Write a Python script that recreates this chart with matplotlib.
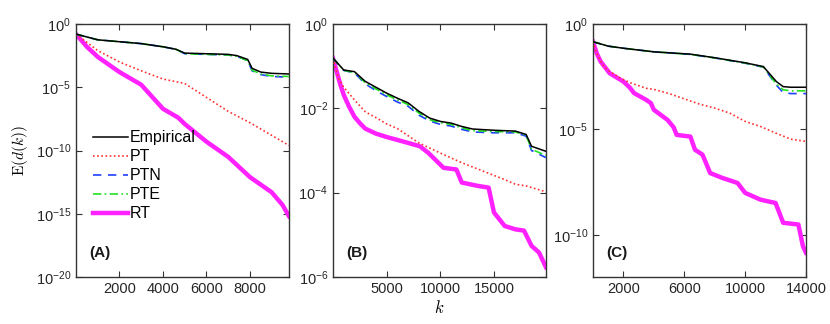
import matplotlib
matplotlib.use("Agg")
import matplotlib.pyplot as plt
import numpy as np

plt.rcParams['font.family'] = ['Liberation Sans', 'DejaVu Sans']
plt.rcParams['mathtext.fontset'] = 'custom'
plt.rcParams['mathtext.rm'] = 'Liberation Sans'

# ---- panel A (log10 of E(d(k))) ----
kA_emp = [0, 1000, 2000, 3000, 4000, 4600, 5000, 6000, 7000, 7400, 7900, 8100, 8500, 9000, 9800]
A_emp = [-0.8, -1.25, -1.4, -1.55, -1.8, -2.0, -2.3, -2.35, -2.4, -2.5, -2.8, -3.5, -3.8, -3.9, -3.95]
A_ptn = [-0.8, -1.25, -1.4, -1.55, -1.8, -2.0, -2.35, -2.4, -2.45, -2.55, -2.9, -3.7, -4.0, -4.15, -4.2]
A_pte = [-0.8, -1.25, -1.4, -1.55, -1.8, -2.0, -2.35, -2.4, -2.45, -2.55, -2.9, -3.65, -3.95, -4.1, -4.15]
kA_pt = [0, 1000, 2000, 3000, 4000, 5000, 6000, 7000, 8000, 9000, 9800]
A_pt = [-0.8, -2.1, -3.0, -3.7, -4.35, -4.7, -5.8, -6.9, -7.8, -8.8, -9.6]
kA_rt = [0, 500, 1000, 2000, 3000, 4000, 4700, 5000, 6000, 7000, 8000, 9000, 9500, 9800]
A_rt = [-0.8, -1.8, -2.6, -3.8, -4.8, -6.7, -7.4, -7.9, -9.3, -10.5, -12.1, -13.3, -14.3, -15.2]

# ---- panel B ----
kB_emp = [0, 1000, 2000, 3000, 4000, 5000, 6000, 7000, 8000, 9000, 10000, 11000, 12000,
          13000, 15000, 17000, 18000, 18500, 19850]
B_emp = [-0.81, -1.09, -1.13, -1.36, -1.5, -1.64, -1.76, -1.87, -2.07, -2.23, -2.31, -2.35, -2.43,
         -2.49, -2.52, -2.54, -2.62, -2.9, -3.02]
B_ptn = [-0.81, -1.1, -1.16, -1.42, -1.58, -1.72, -1.85, -1.95, -2.16, -2.3, -2.38, -2.42, -2.5,
         -2.56, -2.58, -2.58, -2.66, -3.0, -3.17]
B_pte = [-0.81, -1.1, -1.15, -1.39, -1.54, -1.68, -1.8, -1.91, -2.11, -2.27, -2.34, -2.38, -2.46,
         -2.53, -2.55, -2.56, -2.64, -2.97, -3.12]
kB_pt = [0, 500, 1000, 2000, 3000, 4000, 5000, 6000, 8000, 10000, 12000, 14000, 16000, 17000, 18000, 19850]
B_pt = [-0.81, -1.28, -1.5, -1.8, -2.08, -2.22, -2.37, -2.48, -2.82, -3.06, -3.29, -3.49, -3.69, -3.8,
        -3.84, -3.98]
kB_rt = [0, 300, 700, 1000, 1500, 2000, 2500, 3000, 4000, 5000, 7000, 8100, 8900, 10300, 11500, 12000,
         13500, 14500, 15000, 16000, 17000, 17800, 18500, 19200, 19850]
B_rt = [-0.81, -1.09, -1.45, -1.68, -1.96, -2.2, -2.35, -2.48, -2.6, -2.68, -2.82, -2.9, -3.06, -3.41,
        -3.45, -3.76, -3.84, -3.88, -4.47, -4.79, -4.87, -4.9, -5.26, -5.42, -5.77]

# ---- panel C ----
kC_emp = [0, 1000, 2000, 4000, 6400, 8000, 10000, 11200, 12050, 12500, 13000, 14000]
C_emp = [-0.84, -1.05, -1.15, -1.32, -1.43, -1.6, -1.84, -2.02, -2.73, -2.97, -3.0, -3.0]
C_ptn = [-0.84, -1.05, -1.15, -1.32, -1.44, -1.61, -1.86, -2.05, -2.9, -3.25, -3.3, -3.3]
C_pte = [-0.84, -1.05, -1.15, -1.32, -1.44, -1.61, -1.85, -2.04, -2.85, -3.12, -3.17, -3.17]
kC_pt = [0, 300, 700, 1000, 1800, 2500, 3500, 4000, 5000, 6000, 7000, 8000, 9000, 10000, 11000, 12000,
         13000, 14000]
C_pt = [-0.84, -1.5, -2.0, -2.2, -2.57, -2.8, -3.05, -3.1, -3.3, -3.55, -3.8, -3.99, -4.23, -4.62,
        -4.86, -5.17, -5.46, -5.57]
kC_rt = [0, 250, 500, 1100, 2000, 2400, 2700, 3500, 3800, 4000, 4900, 5300, 5500, 6400, 6700, 7200,
         7700, 8500, 9500, 10000, 11000, 12000, 12500, 13500, 13800, 14000]
C_rt = [-0.84, -1.4, -1.78, -2.34, -2.73, -3.0, -3.28, -3.6, -3.75, -4.07, -4.55, -4.9, -5.26, -5.34,
        -5.96, -6.2, -7.07, -7.3, -7.54, -8.01, -8.33, -8.49, -9.43, -9.51, -10.54, -10.85]

panels = [
    dict(k_emp=kA_emp, emp=A_emp, ptn=A_ptn, pte=A_pte, k_pt=kA_pt, pt=A_pt, k_rt=kA_rt, rt=A_rt,
         xlim=(0, 9800), xticks=[2000, 4000, 6000, 8000], ylim=(1e-20, 1),
         yticks=[1e-20, 1e-15, 1e-10, 1e-5, 1], label='(A)', left=76),
    dict(k_emp=kB_emp, emp=B_emp, ptn=B_ptn, pte=B_pte, k_pt=kB_pt, pt=B_pt, k_rt=kB_rt, rt=B_rt,
         xlim=(0, 19850), xticks=[5000, 10000, 15000], ylim=(1e-6, 1),
         yticks=[1e-6, 1e-4, 1e-2, 1], label='(B)', left=333),
    dict(k_emp=kC_emp, emp=C_emp, ptn=C_ptn, pte=C_pte, k_pt=kC_pt, pt=C_pt, k_rt=kC_rt, rt=C_rt,
         xlim=(0, 14000), xticks=[2000, 6000, 10000, 14000], ylim=(1e-12, 1),
         yticks=[1e-10, 1e-5, 1], label='(C)', left=593),
]

W, H = 830, 324
fig = plt.figure(figsize=(W / 100, H / 100), dpi=100)

axes = []
for p in panels:
    ax = fig.add_axes([p['left'] / W, 47 / H, 213 / W, 253 / H])
    axes.append(ax)
    pw = lambda v: 10 ** np.array(v)
    ax.semilogy(p['k_emp'], pw(p['emp']), color='black', lw=1.1, label='Empirical', zorder=5)
    ax.semilogy(p['k_pt'], pw(p['pt']), color='#ff3030', lw=1.2, ls=(0, (1, 1.5)), label='PT', zorder=3)
    ax.semilogy(p['k_emp'], pw(p['ptn']), color='#1f3fff', lw=1.2, ls=(0, (5, 4)), label='PTN', zorder=4)
    ax.semilogy(p['k_emp'], pw(p['pte']), color='#22e022', lw=1.2, ls=(0, (5, 2, 1, 2)), label='PTE', zorder=4)
    ax.semilogy(p['k_rt'], pw(p['rt']), color='#ff22ff', lw=3.2, label='RT', zorder=2)
    ax.set_xlim(*p['xlim'])
    ax.set_ylim(*p['ylim'])
    ax.set_xticks(p['xticks'])
    ax.set_yticks(p['yticks'])
    ax.yaxis.set_minor_locator(matplotlib.ticker.NullLocator())
    ax.tick_params(direction='in', top=True, right=True, labelsize=10.5, length=4, color='#333333',
                   labelcolor='#262626')
    for s in ax.spines.values():
        s.set_color('#333333')
        s.set_linewidth(1.0)
    ax.text(0.06, 0.08, p['label'], transform=ax.transAxes, fontsize=11, fontweight='bold',
            color='#1a1a1a')

axes[0].set_ylabel(r'$\mathrm{E}(d(k))$', fontsize=11, math_fontfamily='cm', labelpad=4)
axes[1].set_xlabel(r'$k$', fontsize=12, math_fontfamily='cm', labelpad=2)
axes[0].legend(loc='upper left', bbox_to_anchor=(0.05, 0.605), frameon=False, fontsize=11.5,
               handlelength=2.2, handletextpad=0.1, labelspacing=0.25, borderaxespad=0)

fig.savefig('out.png', dpi=100)
